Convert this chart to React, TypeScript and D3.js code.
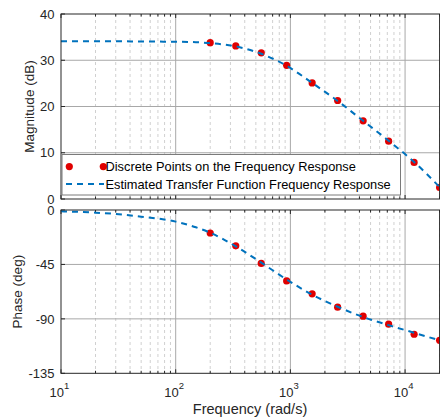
import React from "react";
import * as d3 from "d3";

// Measured response samples (rad/s, dB, deg)
const pointFreq = [200, 334, 557, 928, 1548, 2583, 4309, 7188, 11990, 20000];
const pointMag = [33.8, 33.1, 31.6, 28.9, 25.1, 21.3, 16.9, 12.5, 7.9, 2.5];
const pointPhase = [-19.0, -29.6, -44.2, -58.6, -69.3, -80.3, -87.8, -94.4, -102.7, -107.7];

// Estimated transfer function response
const fitFreq = [10, 20, 30, 50, 100, 150, 200, 334, 557, 928, 1548, 2583, 4309, 7188, 11990, 20000];
const fitMag = [34.1, 34.1, 34.1, 34.05, 34.0, 33.9, 33.7, 33.0, 31.4, 28.8, 25.1, 21.2, 16.9, 12.6, 8.0, 2.6];
const fitPhase = [-1.1, -2.2, -3.3, -5.5, -9.6, -14.3, -18.8, -30.0, -43.5, -57.5, -70.0, -80.0, -88.5, -95.2, -101.5, -107.8];

const magTicks = [0, 10, 20, 30, 40];
const phaseTicks = [0, -45, -90, -135];
const decadeTicks = [10, 100, 1000, 10000];
const legendLabels = [
  "Discrete Points on the Frequency Response",
  "Estimated Transfer Function Frequency Response",
];

const W = 440;
const H = 418;
const FONT = "'Liberation Sans', Arial, Helvetica, sans-serif";
const AX = "#262626";
const BLUE = "#0072BD";
const RED = "#E00000";

const x = d3.scaleLog().domain([10, 20000]).range([61, 439.6]);
const yMag = d3.scaleLinear().domain([0, 40]).range([199, 14]);
const yPhase = d3.scaleLinear().domain([-135, 0]).range([373.3, 210]);

const minorTicks: number[] = [];
for (const dec of [10, 100, 1000, 10000]) {
  for (let k = 2; k <= 9; k++) {
    const v = dec * k;
    if (v <= 20000) minorTicks.push(v);
  }
}

function Panel({
  y,
  ticks,
  fit,
  pts,
  label,
  labelX,
  clipId,
}: {
  y: d3.ScaleLinear<number, number>;
  ticks: number[];
  fit: number[];
  pts: number[];
  label: string;
  labelX: number;
  clipId: string;
}) {
  const [x0, x1] = x.range();
  const [yb, yt] = y.range();
  const line = d3
    .line<number>()
    .x((_, i) => x(fitFreq[i]))
    .y((d) => y(d))
    .curve(d3.curveMonotoneX);
  const midY = (yb + yt) / 2;
  return (
    <g>
      <rect x={x0} y={yt} width={x1 - x0} height={yb - yt} fill="#fff" />
      <clipPath id={clipId}>
        <rect x={x0} y={yt} width={x1 - x0} height={yb - yt} />
      </clipPath>
      {/* minor grid */}
      {minorTicks.map((t) => (
        <line
          key={"mg" + t}
          x1={x(t)}
          x2={x(t)}
          y1={yt}
          y2={yb}
          stroke="#d0d0d0"
          strokeWidth={1}
          strokeDasharray="3,3"
        />
      ))}
      {/* major grid */}
      {decadeTicks.slice(1).map((t) => (
        <line key={"Mg" + t} x1={x(t)} x2={x(t)} y1={yt} y2={yb} stroke="#a8a8a8" strokeWidth={1} />
      ))}
      {ticks.slice(1, -1).map((t) => (
        <line key={"hg" + t} x1={x0} x2={x1} y1={y(t)} y2={y(t)} stroke="#a8a8a8" strokeWidth={1} />
      ))}
      {/* tick marks */}
      {minorTicks.map((t) => (
        <g key={"mt" + t}>
          <line x1={x(t)} x2={x(t)} y1={yb} y2={yb - 2.5} stroke={AX} />
          <line x1={x(t)} x2={x(t)} y1={yt} y2={yt + 2.5} stroke={AX} />
        </g>
      ))}
      {decadeTicks.map((t) => (
        <g key={"Mt" + t}>
          <line x1={x(t)} x2={x(t)} y1={yb} y2={yb - 4} stroke={AX} />
          <line x1={x(t)} x2={x(t)} y1={yt} y2={yt + 4} stroke={AX} />
        </g>
      ))}
      {ticks.map((t) => (
        <line key={"yt" + t} x1={x0} x2={x0 + 4} y1={y(t)} y2={y(t)} stroke={AX} />
      ))}
      {/* data */}
      <g clipPath={`url(#${clipId})`}>
        {pts.map((v, i) => (
          <circle key={"p" + i} cx={x(pointFreq[i])} cy={y(v)} r={3.6} fill={RED} />
        ))}
        <path
          d={line(fit) || ""}
          fill="none"
          stroke={BLUE}
          strokeWidth={2}
          strokeDasharray="6,5"
        />
      </g>
      {/* frame */}
      <rect x={x0} y={yt} width={x1 - x0} height={yb - yt} fill="none" stroke={AX} strokeWidth={1} />
      {/* y tick labels */}
      {ticks.map((t) => (
        <text
          key={"yl" + t}
          x={54.5}
          y={y(t)}
          dy="0.36em"
          textAnchor="end"
          fontSize={13}
          fill={AX}
          fontFamily={FONT}
        >
          {t}
        </text>
      ))}
      <text
        transform={`translate(${labelX},${midY}) rotate(-90)`}
        textAnchor="middle"
        fontSize={13.5}
        fill={AX}
        fontFamily={FONT}
      >
        {label}
      </text>
    </g>
  );
}

export default function App() {
  const yb = yPhase.range()[0];
  return (
    <svg
      width={W}
      height={H}
      viewBox={`0 0 ${W} ${H}`}
      style={{ position: "absolute", left: 0, top: 0, background: "#fff" }}
    >
      <rect width={W} height={H} fill="#fff" />
      <Panel y={yMag} ticks={magTicks} fit={fitMag} pts={pointMag} label="Magnitude (dB)" labelX={34} clipId="clipMag" />
      <Panel y={yPhase} ticks={phaseTicks} fit={fitPhase} pts={pointPhase} label="Phase (deg)" labelX={22} clipId="clipPhase" />

      {/* legend */}
      <g fontFamily={FONT} fontSize={12.8}>
        <rect x={62} y={154.5} width={338.5} height={40.5} fill="#fff" stroke="#7a7a7a" strokeWidth={1} />
        <circle cx={69.3} cy={166.6} r={3.6} fill={RED} />
        <circle cx={103.3} cy={166.6} r={3.6} fill={RED} />
        <text x={105.5} y={166.6} dy="0.36em" fill="#000">
          {legendLabels[0]}
        </text>
        <line x1={66} x2={104} y1={184} y2={184} stroke={BLUE} strokeWidth={2} strokeDasharray="6,5" />
        <text x={105.5} y={184} dy="0.36em" fill="#000">
          {legendLabels[1]}
        </text>
      </g>

      {/* x tick labels */}
      {decadeTicks.map((t) => (
        <text key={"xl" + t} x={x(t) - 1.5} y={yb + 23.5} textAnchor="middle" fontSize={13} fill={AX} fontFamily={FONT}>
          10
          <tspan dy={-8} fontSize={9.5}>
            {Math.round(Math.log10(t))}
          </tspan>
        </text>
      ))}
      <text x={250} y={414} textAnchor="middle" fontSize={14.5} fill={AX} fontFamily={FONT}>
        Frequency  (rad/s)
      </text>
    </svg>
  );
}
